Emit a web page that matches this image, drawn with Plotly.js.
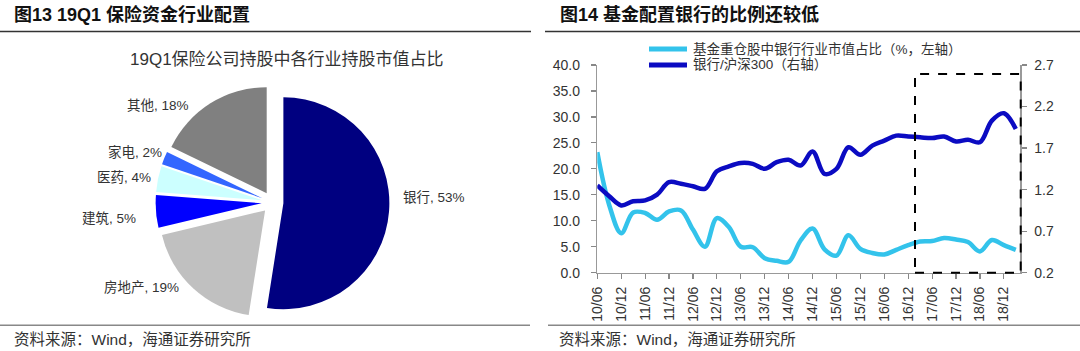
<!DOCTYPE html>
<html><head><meta charset="utf-8">
<script src="https://cdn.plot.ly/plotly-3.0.1.min.js"></script>
<style>html,body{margin:0;padding:0;background:#fff;}#chart{width:1080px;height:351px;}</style>
</head><body><div id="chart"></div>
<script>
// ---------- data ----------
const pieLabels = ['银行', '房地产', '建筑', '医药', '家电', '其他'];
const pieValues = [53, 19, 5, 4, 2, 18];

const categories = ['10/06','10/09','10/12','11/03','11/06','11/09','11/12','12/03','12/06','12/09',
  '12/12','13/03','13/06','13/09','13/12','14/03','14/06','14/09','14/12','15/03',
  '15/06','15/09','15/12','16/03','16/06','16/09','16/12','17/03','17/06','17/09',
  '17/12','18/03','18/06','18/09','18/12','19/03'];
const fundBankShare = [23.2, 13.0, 7.6, 11.6, 11.5, 10.2, 11.8, 12.0, 8.3, 5.0,
  10.5, 8.8, 5.0, 4.9, 2.8, 2.3, 2.1, 6.2, 8.5, 4.5,
  3.3, 7.2, 4.6, 3.8, 3.5, 4.4, 5.3, 6.0, 6.1, 6.7,
  6.4, 5.9, 4.1, 6.3, 5.3, 4.4];
const bankVsHs300 = [1.25, 1.12, 1.01, 1.06, 1.07, 1.14, 1.29, 1.27, 1.24, 1.21,
  1.42, 1.48, 1.52, 1.51, 1.45, 1.53, 1.56, 1.49, 1.66, 1.39,
  1.45, 1.71, 1.62, 1.73, 1.79, 1.85, 1.84, 1.83, 1.82, 1.84,
  1.78, 1.80, 1.77, 2.03, 2.12, 1.93];
const seriesNames = ['基金重仓股中银行行业市值占比（%，左轴）', '银行/沪深300（右轴）'];
const leftTicks = [0, 5, 10, 15, 20, 25, 30, 35, 40];
const rightTicks = [0.2, 0.7, 1.2, 1.7, 2.2, 2.7];
const xTickLabels = categories.filter((c, i) => i % 2 === 0);

const titleLeft = '图13 19Q1 保险资金行业配置';
const titleRight = '图14 基金配置银行的比例还较低';
const pieTitle = '19Q1保险公司持股中各行业持股市值占比';
const sourceText = '资料来源：Wind，海通证券研究所';

// ---------- styles ----------
const W = 1080, H = 351;
const px = x => x / W;
const py = y => 1 - y / H;
const FONT = 'Arial, "Liberation Sans", "Noto Sans CJK SC", sans-serif';
const pieColors = ['#000080', '#C0C0C0', '#0000FF', '#CCFFFF', '#3366FF', '#808080'];
const lineColors = ['#33C3EB', '#0B0BC2'];
// label anchor points (pixels) and anchors for pie labels
const pieLabelPos = [[401, 197, 'left'], [181, 287, 'right'], [138, 218, 'right'],
  [153, 177, 'right'], [164, 152, 'right'], [191, 105, 'right']];

const traces = [
  {
    type: 'pie', labels: pieLabels, values: pieValues, sort: false,
    direction: 'clockwise', rotation: 0, pull: 0.103,
    marker: {colors: pieColors, line: {width: 0}},
    textinfo: 'none', hoverinfo: 'none', showlegend: false,
    domain: {x: [px(155.6), px(389.4)], y: [py(319.3), py(85.5)]}
  },
  {
    type: 'scatter', mode: 'lines', name: seriesNames[0], x: categories, y: fundBankShare,
    line: {color: lineColors[0], width: 4.5, shape: 'spline', smoothing: 1},
    xaxis: 'x', yaxis: 'y', showlegend: false
  },
  {
    type: 'scatter', mode: 'lines', name: seriesNames[1], x: categories, y: bankVsHs300,
    line: {color: lineColors[1], width: 4.5, shape: 'spline', smoothing: 1},
    xaxis: 'x', yaxis: 'y2', showlegend: false
  }
];

const annotations = [];
const ann = (text, x, y, xanchor, size, opts) => Object.assign({
  text, xref: 'paper', yref: 'paper', x: px(x), y: py(y), xanchor, yanchor: 'middle',
  showarrow: false, font: {family: FONT, size, color: '#333'}
}, opts || {});

annotations.push(ann('<b>' + titleLeft + '</b>', 12, 15, 'left', 18, {font: {family: FONT, size: 18, color: '#111'}}));
annotations.push(ann('<b>' + titleRight + '</b>', 558, 15, 'left', 18, {font: {family: FONT, size: 18, color: '#111'}}));
annotations.push(ann(pieTitle, 287, 59, 'center', 17));
pieLabels.forEach((lab, i) => {
  const p = pieLabelPos[i];
  annotations.push(ann(lab + ', ' + pieValues[i] + '%', p[0], p[1], p[2], 13.5));
});
annotations.push(ann(seriesNames[0], 691, 49, 'left', 13.5));
annotations.push(ann(seriesNames[1], 691, 65, 'left', 13.5));
annotations.push(ann(sourceText, 12, 339, 'left', 15.5));
annotations.push(ann(sourceText, 557, 339, 'left', 15.5));

const shapes = [
  {type: 'line', xref: 'paper', yref: 'paper', x0: 0, x1: px(531), y0: py(31.5), y1: py(31.5), line: {color: '#333', width: 1.5}},
  {type: 'line', xref: 'paper', yref: 'paper', x0: px(545), x1: 1, y0: py(31.5), y1: py(31.5), line: {color: '#333', width: 1.5}},
  {type: 'line', xref: 'paper', yref: 'paper', x0: 0, x1: px(530), y0: py(325.3), y1: py(325.3), line: {color: '#888', width: 1.5}},
  {type: 'line', xref: 'paper', yref: 'paper', x0: px(548), x1: 1, y0: py(325.3), y1: py(325.3), line: {color: '#888', width: 1.5}},
  {type: 'rect', xref: 'paper', yref: 'paper', x0: px(915), x1: px(1020.7), y0: py(272.7), y1: py(74), line: {color: '#000', width: 2, dash: 'dash'}},
  {type: 'line', xref: 'paper', yref: 'paper', x0: px(649), x1: px(687), y0: py(49), y1: py(49), line: {color: lineColors[0], width: 5}},
  {type: 'line', xref: 'paper', yref: 'paper', x0: px(649), x1: px(687), y0: py(65), y1: py(65), line: {color: lineColors[1], width: 5}}
];

const axisFont = {family: FONT, size: 14, color: '#333'};
const layout = {
  width: W, height: H, margin: {l: 0, r: 0, t: 0, b: 0},
  paper_bgcolor: '#fff', plot_bgcolor: 'rgba(0,0,0,0)',
  showlegend: false,
  xaxis: {
    domain: [px(597.3), px(1020)], type: 'category', range: [0, 35.35],
    tickmode: 'array', tickvals: xTickLabels, ticktext: xTickLabels, tickangle: -90,
    ticks: 'outside', ticklen: 5, tickcolor: '#888', tickwidth: 1.2,
    showline: true, linecolor: '#999', linewidth: 1.5, showgrid: false, zeroline: false,
    tickfont: {family: FONT, size: 14, color: '#333'}, ticklabelstandoff: 2, anchor: 'y'
  },
  yaxis: {
    domain: [py(272.7), py(65)], range: [0, 40], tickmode: 'array', tickvals: leftTicks,
    tickformat: '.1f', ticks: 'outside', ticklen: 5, tickcolor: '#888', tickwidth: 1.2,
    showline: true, linecolor: '#999', linewidth: 1.5, showgrid: false, zeroline: false,
    tickfont: axisFont, ticklabelstandoff: 8, anchor: 'x'
  },
  yaxis2: {
    overlaying: 'y', side: 'right', range: [0.2, 2.7], tickmode: 'array', tickvals: rightTicks,
    tickformat: '.1f', ticks: 'outside', ticklen: 5, tickcolor: '#888', tickwidth: 1.2,
    showline: true, linecolor: '#999', linewidth: 1.5, showgrid: false, zeroline: false,
    tickfont: axisFont, ticklabelstandoff: 5, anchor: 'x'
  },
  annotations, shapes
};

Plotly.newPlot('chart', traces, layout, {staticPlot: true, displayModeBar: false});
</script>
</body></html>
